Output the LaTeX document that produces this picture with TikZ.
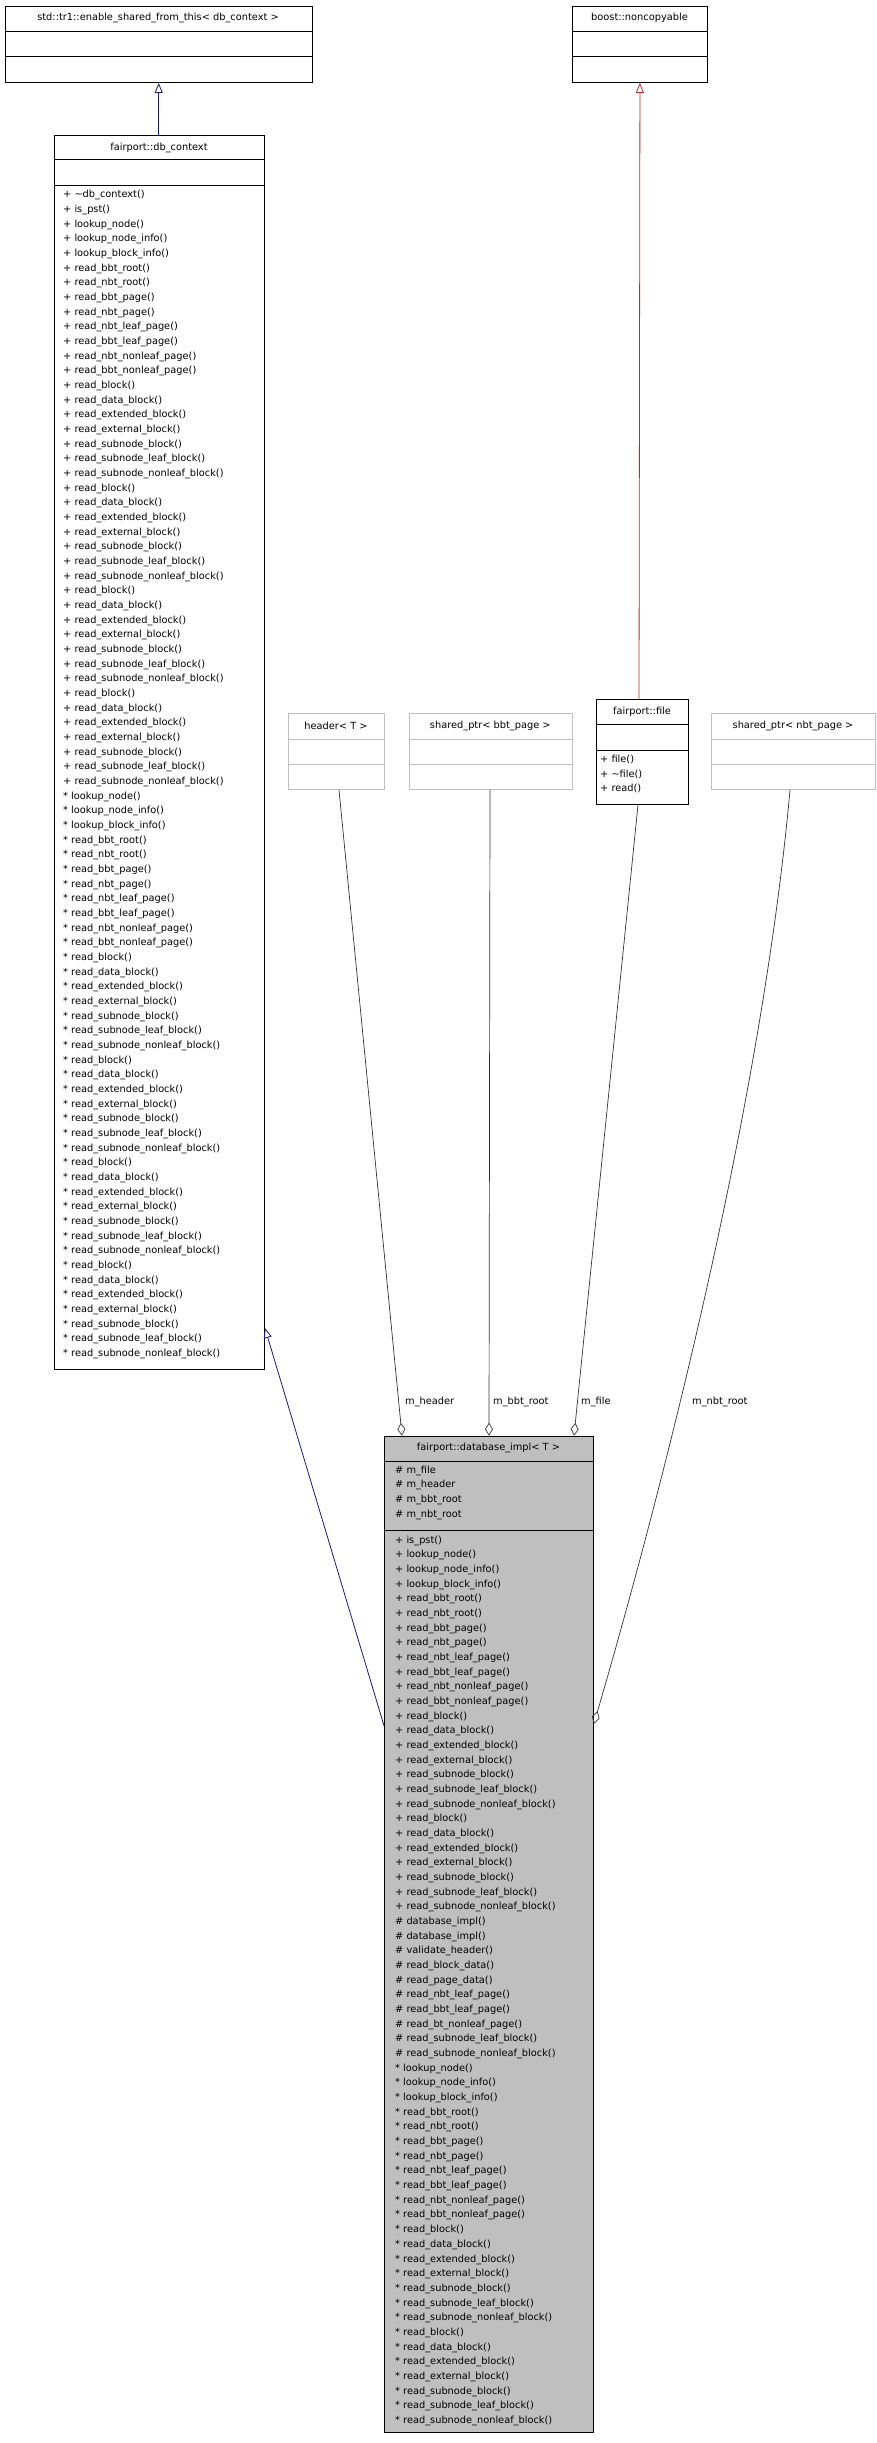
\documentclass[tikz,border=0pt]{standalone}
\usepackage{fontspec}
\setmainfont{DejaVu Sans}
\usetikzlibrary{arrows.meta,calc}
\definecolor{boxgray}{HTML}{BFBFBF}
\definecolor{navyl}{HTML}{191970}
\definecolor{redl}{HTML}{B03030}
\newcommand\grp[1]{#1 read\_block()\\#1 read\_data\_block()\\#1 read\_extended\_block()\\#1 read\_external\_block()\\#1 read\_subnode\_block()\\#1 read\_subnode\_leaf\_block()\\#1 read\_subnode\_nonleaf\_block()}
\newcommand\pgs[1]{#1 read\_bbt\_root()\\#1 read\_nbt\_root()\\#1 read\_bbt\_page()\\#1 read\_nbt\_page()\\#1 read\_nbt\_leaf\_page()\\#1 read\_bbt\_leaf\_page()\\#1 read\_nbt\_nonleaf\_page()\\#1 read\_bbt\_nonleaf\_page()}
\newcommand\lks[1]{#1 lookup\_node()\\#1 lookup\_node\_info()\\#1 lookup\_block\_info()}
\begin{document}
\begin{tikzpicture}[x=1pt,y=-1pt,font=\fontsize{9.8}{14.67}\selectfont,
  cls/.style={draw=black,line width=0.9pt,anchor=north west,inner sep=0,minimum width=#1},
  ucls/.style={draw=boxgray,line width=0.9pt,anchor=north west,inner sep=0,minimum width=#1},
  txt/.style={anchor=north west,inner sep=0,align=left},
  ttl/.style={inner sep=0},
  inh/.style={line width=0.8pt,-{Triangle[open,length=10pt,width=8pt]}},
  agg/.style={line width=0.7pt,draw=black!80,-{Diamond[open,length=13pt,width=8pt]}},
  lbl/.style={anchor=west,inner sep=0}]
\useasboundingbox (0,0) rectangle (877,2443);
% enable_shared_from_this
\node[cls=307.5pt,minimum height=76.3pt] (esf) at (4.5,5.7) {};
\draw[line width=0.9pt] (4.5,31) -- (312,31) (4.5,56.7) -- (312,56.7);
\node[ttl] (esft) at (158,18) {std::tr1::enable\_shared\_from\_this< db\_context >};
% boost
\node[cls=135pt,minimum height=76.3pt] (bnc) at (572,5.7) {};
\draw[line width=0.9pt] (572,31) -- (707,31) (572,56.7) -- (707,56.7);
\node[ttl] (bnct) at (639.5,18) {boost::noncopyable};
% db_context
\node[cls=210pt,minimum height=1234pt] (dbc) at (54,135) {};
\draw[line width=0.9pt] (54,159.7) -- (264,159.7) (54,185) -- (264,185);
\node[ttl] (dbct) at (159,147.5) {fairport::db\_context};
\node[txt] (dbcm) at (63,190) {+ \textasciitilde db\_context()\\+ is\_pst()\\\lks{+}\\\pgs{+}\\\grp{+}\\\grp{+}\\\grp{+}\\\grp{+}\\\lks{*}\\\pgs{*}\\\grp{*}\\\grp{*}\\\grp{*}\\\grp{*}};
% header<T>
\node[ucls=96pt,minimum height=76pt] (hdr) at (288,713) {};
\draw[boxgray,line width=0.9pt] (288,739) -- (384,739) (288,764) -- (384,764);
\node[ttl] (hdrt) at (336,726) {header< T >};
% shared_ptr bbt
\node[ucls=163.4pt,minimum height=76pt] (sbb) at (408.6,713) {};
\draw[boxgray,line width=0.9pt] (408.6,739) -- (572,739) (408.6,764) -- (572,764);
\node[ttl] (sbbt) at (490.3,726) {shared\_ptr< bbt\_page >};
% fairport::file
\node[cls=92pt,minimum height=105pt] (fil) at (596,699) {};
\draw[line width=0.9pt] (596,724) -- (688,724) (596,750) -- (688,750);
\node[ttl] (filt) at (642,711.5) {fairport::file};
\node[txt] (film) at (600,755) {+ file()\\+ \textasciitilde file()\\+ read()};
% shared_ptr nbt
\node[ucls=164pt,minimum height=76pt] (snb) at (711,713) {};
\draw[boxgray,line width=0.9pt] (711,739) -- (875,739) (711,764) -- (875,764);
\node[ttl] (snbt) at (793,726) {shared\_ptr< nbt\_page >};
% database_impl
\node[cls=209pt,minimum height=996pt,fill=boxgray] (dbi) at (384,1435.7) {};
\draw[line width=0.9pt] (384,1461) -- (593,1461) (384,1530) -- (593,1530);
\node[ttl] (dbit) at (488.5,1448.3) {fairport::database\_impl< T >};
\node[txt] (dbia) at (395,1465.5) {\# m\_file\\\# m\_header\\\# m\_bbt\_root\\\# m\_nbt\_root};
\node[txt] (dbim) at (395,1535.5) {+ is\_pst()\\\lks{+}\\\pgs{+}\\\grp{+}\\\grp{+}\\\# database\_impl()\\\# database\_impl()\\\# validate\_header()\\\# read\_block\_data()\\\# read\_page\_data()\\\# read\_nbt\_leaf\_page()\\\# read\_bbt\_leaf\_page()\\\# read\_bt\_nonleaf\_page()\\\# read\_subnode\_leaf\_block()\\\# read\_subnode\_nonleaf\_block()\\\lks{*}\\\pgs{*}\\\grp{*}\\\grp{*}};
% inheritance
\draw[inh,navyl] (dbc.north -| esf.south) -- (esf.south);
\draw[inh,redl] ($(fil.north west)+(43,0)$) -- (bnc.south);
\coordinate (dbiL) at ($(dbi.north west)+(0,290)$);
\coordinate (dbcR) at ($(dbc.north east)+(0,1193)$);
\draw[inh,navyl] (dbiL) -- (dbcR);
% aggregations
\draw[agg] ($(hdr.south west)+(51,0)$) -- ($(dbi.north west)+(18,0)$);
\draw[agg] ($(sbb.south west)+(81.4,0)$) -- ($(dbi.north west)+(105,0)$);
\draw[agg] ($(fil.south west)+(42,0)$) -- ($(dbi.north west)+(190,0)$);
\coordinate (dbiR) at ($(dbi.north east)+(0,288)$);
\draw[agg] ($(snb.south west)+(79,0)$) .. controls (762,1100) and (665,1480) .. (dbiR);
\node[lbl] (l1) at (405,1402) {m\_header};
\node[lbl] (l2) at (493,1402) {m\_bbt\_root};
\node[lbl] (l3) at (581,1402) {m\_file};
\node[lbl] (l4) at (692,1402) {m\_nbt\_root};
\end{tikzpicture}
\end{document}
